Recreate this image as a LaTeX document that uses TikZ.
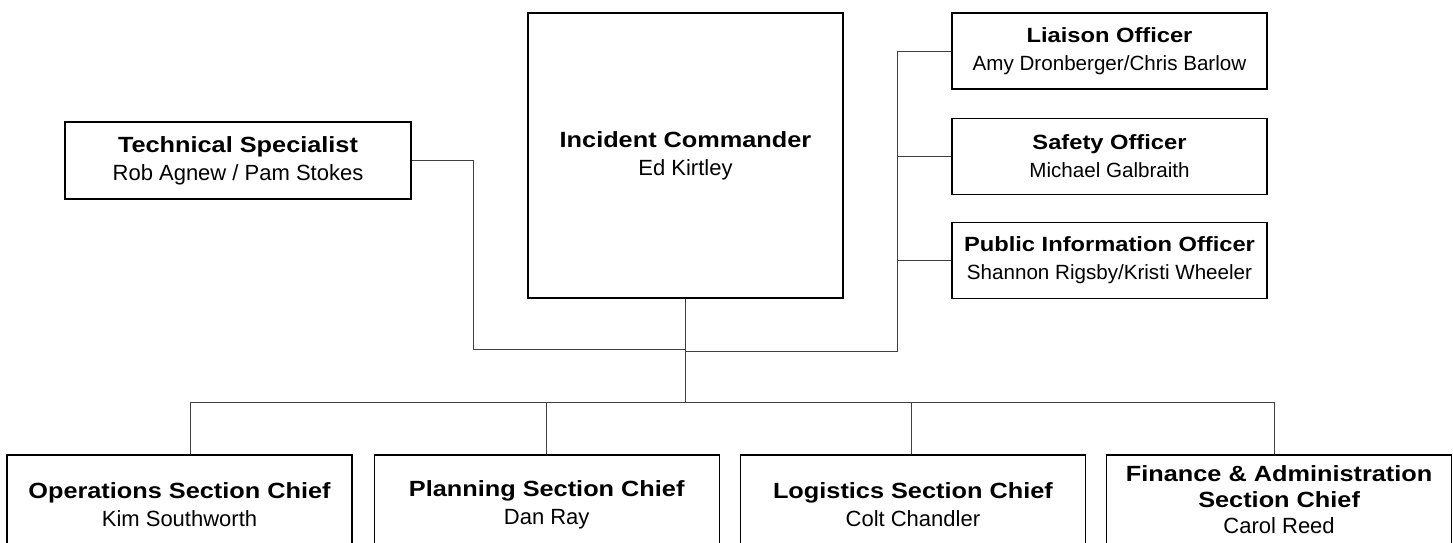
\documentclass[tikz,border=0pt]{standalone}
\usepackage{fontspec}
\setmainfont{Liberation Sans}
\newfontfamily\titlefont{Liberation Sans}[FakeStretch=1.15]
\usetikzlibrary{positioning}
\newcommand{\postname}[1]{{\titlefont\bfseries #1}}

\begin{document}
\begin{tikzpicture}[x=1pt, y=-1pt, node distance={28pt},
        main/.style = {draw, line width=1.2pt, align=center, inner sep=0pt, minimum width=315pt, minimum height=76pt, font=\fontsize{22}{28}\selectfont},
        officer/.style = {main, font=\fontsize{20.6}{28}\selectfont},
        chief/.style = {main, minimum width=345pt, minimum height=100pt},
        link/.style = {line width=0.8pt, black!75}]
        \useasboundingbox (0,0) rectangle (1453,542);

        \node[main, minimum height=285pt] (ic) at (685.5,155.5) {\postname{Incident Commander}\\ Ed Kirtley};
        \node[main, minimum width=346pt, minimum height=77pt] (tech) at (238,160.5) {\postname{Technical Specialist}\\ Rob Agnew / Pam Stokes};
        \node[officer] (liaison) at (1109.5,51) {\postname{Liaison Officer}\\ Amy Dronberger/Chris Barlow};
        \node[officer] (safety) [below=of liaison] {\postname{Safety Officer}\\ Michael Galbraith};
        \node[officer] (pio) [below=27pt of safety] {\postname{Public Information Officer}\\ Shannon Rigsby/Kristi Wheeler};

        \node[chief] (ops) at (179.5,505) {\postname{Operations Section Chief}\\ Kim Southworth};
        \node[chief] (planning) [right=21pt of ops] {\postname{Planning Section Chief}\\ Dan Ray};
        \node[chief] (logistics) [right=20pt of planning] {\postname{Logistics Section Chief}\\ Colt Chandler};
        \node[chief, minimum height=90pt, anchor=north west, font=\fontsize{22}{26}\selectfont] (finance) at ([xshift=20pt]logistics.north east) {\postname{Finance \& Administration}\\ \postname{Section Chief}\\ Carol Reed};

        % Liens du personnel
        \coordinate (lefthub) at (473,349);
        \coordinate (righthub) at (897,351);
        \coordinate (bus) at (685.5,402);
        \draw[link] (tech.east) -| (lefthub) -- (lefthub -| ic.south);
        \draw[link] (liaison.west) -| (righthub) -- (righthub -| ic.south);
        \foreach \n in {safety,pio}{
            \draw[link] (\n.west) -- (\n.west -| righthub);
        }
        \draw[link] (ic.south) -- (bus);

        % Liens vers les sections
        \foreach \n/\x in {ops/190,planning/546,logistics/911,finance/1274}{
            \coordinate (top-\n) at (\x,402);
            \draw[link] (top-\n) -- (top-\n |- \n.north);
        }
        \draw[link] (top-ops) -- (top-finance);
    \end{tikzpicture}
\end{document}
